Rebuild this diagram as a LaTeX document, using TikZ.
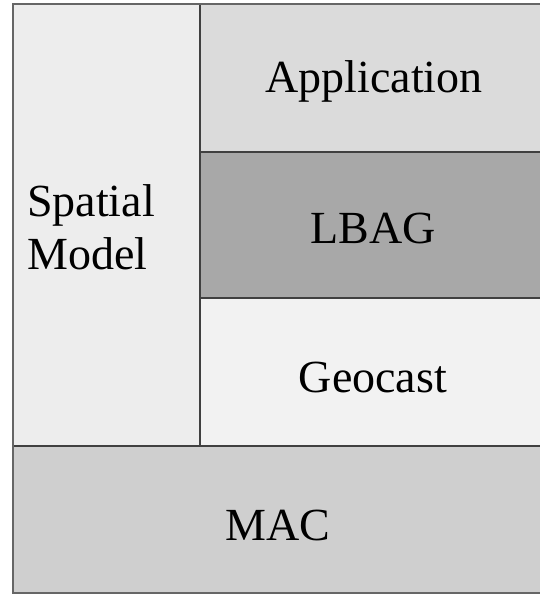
\documentclass[tikz,border=0pt]{standalone}
\usepackage{fontspec}
\setmainfont{Liberation Serif}
\begin{document}
\begin{tikzpicture}[x=1pt,y=1pt,
  cell/.style={draw=black!75, line width=1.5pt},
  lbl/.style={font=\fontsize{46}{53}\selectfont, text=black, inner sep=0pt}]
\useasboundingbox (0,0) rectangle (539,594);
\fill[white] (0,0) rectangle (539,594);
% cells (y = 594 - pixel row)
\fill[black!7]  (13,148) rectangle (200,590);
\fill[black!14] (200,442) rectangle (541,590);
\fill[black!34] (200,296) rectangle (541,442);
\fill[black!5]  (200,148) rectangle (541,296);
\fill[black!19] (13,1) rectangle (541,148);
% inner lines
\draw[cell] (200,590) -- (200,148);
\draw[cell] (200,442) -- (541,442);
\draw[cell] (200,296) -- (541,296);
\draw[cell] (13,148) -- (541,148);
% outer border
\draw[draw=black!60, line width=2pt] (541,590) -- (13,590) -- (13,1) -- (541,1);
% labels
\node[lbl, anchor=center] (app) at (374,513) {Application};
\node[lbl, anchor=center] (lbag) at (373,365) {LBAG};
\node[lbl, anchor=center] (geo) at (373,217) {Geocast};
\node[lbl, anchor=center] (mac) at (278,69) {MAC};
\node[lbl, anchor=base west, align=left] (sm) at (27,324) {Spatial\\Model};
\end{tikzpicture}
\end{document}
